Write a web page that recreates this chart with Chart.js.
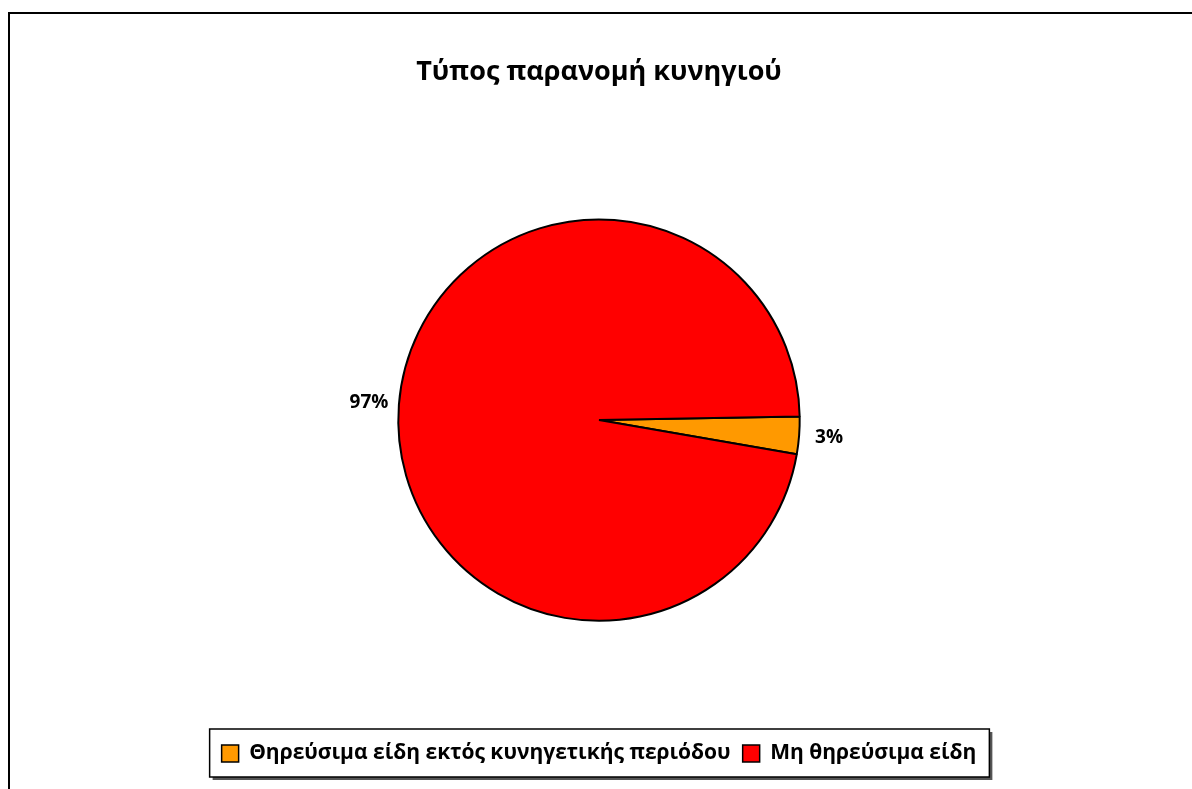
<!DOCTYPE html>
<html>
<head>
<meta charset="utf-8">
<script src="https://cdn.jsdelivr.net/npm/chart.js@4.4.0/dist/chart.umd.min.js"></script>
<style>
  html, body { margin: 0; padding: 0; background: #fff; }
  #wrap { width: 1192px; height: 789px; position: relative; }
</style>
</head>
<body>
<div id="wrap"><canvas id="pie"></canvas></div>
<script>
const categories = ['Θηρεύσιμα είδη εκτός κυνηγετικής περιόδου', 'Μη θηρεύσιμα είδη'];
const percentages = [3, 97];
const sliceColors = ['#FF9900', '#FF0000'];
const chartTitle = 'Τύπος παρανομή κυνηγιού';

const FONT = "'Open Sans', 'Noto Sans', sans-serif";

// frame of the chart object (only top and left edges visible)
const framePlugin = {
  id: 'frame',
  beforeDraw(chart) {
    const ctx = chart.ctx;
    ctx.save();
    ctx.strokeStyle = '#000';
    ctx.lineWidth = 2;
    ctx.beginPath();
    ctx.moveTo(9, chart.height);
    ctx.lineTo(9, 13);
    ctx.lineTo(chart.width, 13);
    ctx.stroke();
    ctx.restore();
  }
};

// box with shadow round the legend
const legendBoxPlugin = {
  id: 'legendBox',
  afterDraw(chart) {
    const lg = chart.legend;
    if (!lg || !lg.legendHitBoxes.length) return;
    const first = lg.legendHitBoxes[0];
    const last = lg.legendHitBoxes[lg.legendHitBoxes.length - 1];
    const x0 = first.left - 12, x1 = last.left + last.width + 13;
    const y0 = first.top - 14, y1 = first.top + first.height + 13;
    const ctx = chart.ctx;
    ctx.save();
    ctx.fillStyle = '#555';
    ctx.fillRect(x0 + 3, y0 + 3, x1 - x0, y1 - y0);
    ctx.fillStyle = '#fff';
    ctx.fillRect(x0, y0, x1 - x0, y1 - y0);
    ctx.strokeStyle = '#000';
    ctx.lineWidth = 1.5;
    ctx.strokeRect(x0, y0, x1 - x0, y1 - y0);
    ctx.restore();
    lg.draw();
  }
};

// percentage labels outside each slice
const outLabels = {
  id: 'outLabels',
  afterDatasetsDraw(chart) {
    const ctx = chart.ctx;
    const meta = chart.getDatasetMeta(0);
    ctx.save();
    ctx.font = 'bold 19px ' + FONT;
    ctx.fillStyle = '#000';
    ctx.textAlign = 'center';
    ctx.textBaseline = 'middle';
    meta.data.forEach((arc, i) => {
      const p = arc.getProps(['x', 'y', 'startAngle', 'endAngle', 'outerRadius'], true);
      const mid = (p.startAngle + p.endAngle) / 2;
      const r = p.outerRadius + 30;
      ctx.fillText(percentages[i] + '%', p.x + Math.cos(mid) * r, p.y + Math.sin(mid) * r);
    });
    ctx.restore();
  }
};

new Chart(document.getElementById('pie'), {
  type: 'pie',
  data: {
    labels: categories,
    datasets: [{
      data: percentages,
      backgroundColor: sliceColors,
      borderColor: '#000',
      borderWidth: 2
    }]
  },
  options: {
    responsive: true,
    maintainAspectRatio: false,
    animation: false,
    rotation: 89,
    layout: { padding: { bottom: 15, left: 6 } },
    plugins: {
      title: {
        display: true,
        text: chartTitle,
        color: '#000',
        font: { family: FONT, size: 27, weight: 'bold' },
        padding: { top: 56, bottom: 130 }
      },
      legend: {
        position: 'bottom',
        title: {
          display: true,
          text: ' ',
          font: { size: 1 },
          padding: { top: 108, bottom: 0 }
        },
        labels: {
          color: '#000',
          font: { family: FONT, size: 21, weight: 'bold' },
          boxWidth: 17,
          boxHeight: 17,
          padding: 12,
          generateLabels(chart) {
            const ds = chart.data.datasets[0];
            return chart.data.labels.map((l, i) => ({
              text: l, fillStyle: ds.backgroundColor[i], strokeStyle: '#000',
              fontColor: '#000', lineWidth: 1.5, index: i, hidden: false
            }));
          }
        }
      },
      tooltip: { enabled: false }
    }
  },
  plugins: [framePlugin, legendBoxPlugin, outLabels]
});
</script>
</body>
</html>
